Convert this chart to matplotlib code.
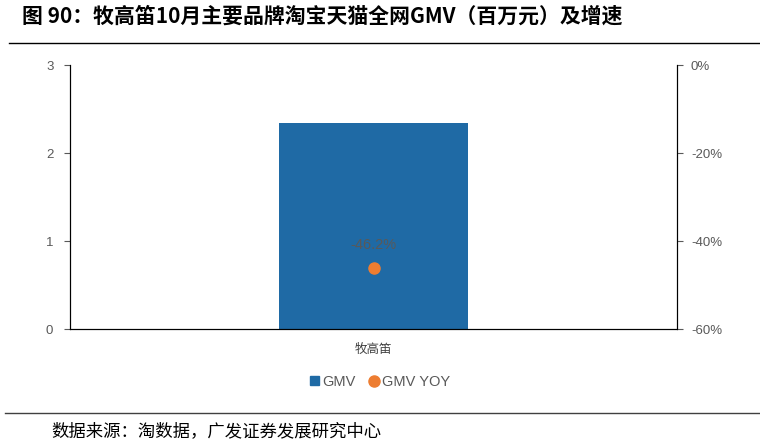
import matplotlib.pyplot as plt
from matplotlib.lines import Line2D
from matplotlib.patches import Patch

plt.rcParams['font.family'] = ['Liberation Sans', 'Noto Sans CJK SC', 'DejaVu Sans']

brands = ['牧高笛']
gmv = [2.34]
gmv_yoy = [-46.2]

cjk = ['Noto Sans CJK SC', 'DejaVu Sans']

fig = plt.figure(figsize=(7.6, 4.41), dpi=100)
ax = fig.add_axes([70 / 760, 1 - 329 / 441, 607 / 760, 264 / 441])
ax2 = ax.twinx()

x = list(range(len(brands)))
ax.bar(x, gmv, width=0.31, color='#1F6AA5', zorder=2)
ax.set_xlim(-0.5, 0.5)
ax.set_ylim(0, 3)
ax.set_yticks([0, 1, 2, 3])
ax.set_xticks(x)
ax.set_xticklabels(brands, fontsize=9, color='#404040', family=cjk)
ax.tick_params(axis='x', length=0, pad=10)
ax.tick_params(axis='y', labelsize=9.5, colors='#595959', length=4, pad=8)

ax2.plot(x, gmv_yoy, 'o', color='#ED7D31', markersize=8, zorder=3)
for xi, v in zip(x, gmv_yoy):
    ax2.annotate(f'{v:.1f}%', (xi, v), xytext=(0, 12), textcoords='offset points',
                 ha='center', va='bottom', fontsize=10.5, color='#595959')
ax2.set_ylim(-60, 0)
ax2.set_yticks([-60, -40, -20, 0])
ax2.set_yticklabels([f'{t}%' for t in [-60, -40, -20, 0]])
ax2.tick_params(axis='y', labelsize=9.5, colors='#595959', length=4, pad=6)

for a in (ax, ax2):
    a.spines['top'].set_visible(False)
    for s in ('left', 'right', 'bottom'):
        a.spines[s].set_color('#000000')
        a.spines[s].set_linewidth(0.8)

handles = [Patch(color='#1F6AA5', label='GMV'),
           Line2D([], [], marker='o', linestyle='', color='#ED7D31', markersize=8, label='GMV YOY')]
fig.legend(handles=handles, loc='center', bbox_to_anchor=(380 / 760, 1 - 382 / 441), ncol=2,
           frameon=False, fontsize=10.5, handlelength=0.6, handleheight=0.6, handletextpad=0.2,
           columnspacing=1.0, labelcolor='#595959')

fig.text(22 / 760, 1 - 16 / 441, '图 90：牧高笛10月主要品牌淘宝天猫全网GMV（百万元）及增速',
         fontsize=15, fontweight='bold', va='center', ha='left', family=cjk)
fig.add_artist(Line2D([9 / 760, 1], [1 - 43 / 441, 1 - 43 / 441], color='black', linewidth=1))
fig.add_artist(Line2D([5 / 760, 1], [1 - 413 / 441, 1 - 413 / 441], color='#404040', linewidth=1))
fig.text(51 / 760, 1 - 431 / 441, '数据来源：淘数据，广发证券发展研究中心',
         fontsize=12.5, va='center', ha='left', family=cjk)

fig.savefig('out.png', dpi=100)
